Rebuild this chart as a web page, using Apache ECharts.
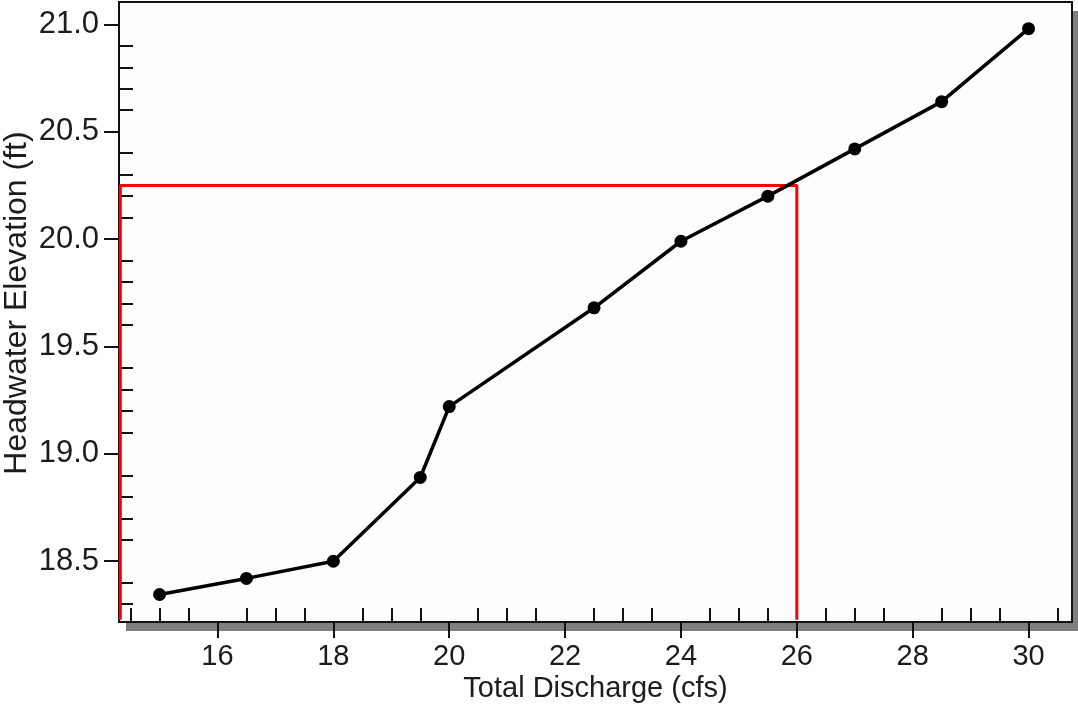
<!DOCTYPE html>
<html>
<head>
<meta charset="utf-8">
<script src="https://cdn.jsdelivr.net/npm/echarts@6/dist/echarts.min.js"></script>
<style>
html,body{margin:0;padding:0;background:#ffffff;}
#chart{width:1078px;height:709px;}
</style>
</head>
<body>
<div id="chart"></div>
<script>
// Data
const discharge = [15, 16.5, 18, 19.5, 20, 22.5, 24, 25.5, 27, 28.5, 30];
const elevation = [18.345, 18.42, 18.50, 18.89, 19.22, 19.68, 19.99, 20.20, 20.42, 20.64, 20.98];

// Red highlight box (discharge, elevation corners)
const boxX = [14.323, 14.323, 26.0, 26.0];
const boxY = [18.228, 20.25, 20.25, 18.228];

// Tick labels and minor tick positions
const xTickLabels = [16, 18, 20, 22, 24, 26, 28, 30];
const yTickLabels = [18.5, 19.0, 19.5, 20.0, 20.5, 21.0];
const xMinorTicks = [14.5, 15, 15.5, 16.5, 17, 17.5, 18.5, 19, 19.5, 20.5, 21, 21.5, 22.5, 23, 23.5, 24.5, 25, 25.5, 26.5, 27, 27.5, 28.5, 29, 29.5, 30.5];
const yMinorTicks = [18.3, 18.4, 18.6, 18.7, 18.8, 18.9, 19.1, 19.2, 19.3, 19.4, 19.6, 19.7, 19.8, 19.9, 20.1, 20.2, 20.3, 20.4, 20.6, 20.7, 20.8, 20.9];

const X_MIN = 14.30, X_MAX = 30.75;
const Y_MIN = 18.217, Y_MAX = 21.104;

const FONT = "'Liberation Sans', Arial, sans-serif";
const TXT = '#1c1c1c';
const AX = '#111';

const chart = echarts.init(document.getElementById('chart'), null, {renderer: 'canvas'});

function frameAxis(pos) {
  return {
    type: 'value', min: pos === 'top' ? X_MIN : Y_MIN, max: pos === 'top' ? X_MAX : Y_MAX,
    position: pos, offset: 0,
    axisLine: {show: true, lineStyle: {color: AX, width: 2}},
    axisTick: {show: false}, axisLabel: {show: false}, splitLine: {show: false}
  };
}

const option = {
  backgroundColor: '#ffffff',
  animation: false,
  grid: {
    left: 119, right: 6, top: 2, bottom: 87,
    containLabel: false,
    outerBoundsMode: 'none',
    show: true,
    backgroundColor: '#fdfdfd',
    borderWidth: 0,
    shadowColor: '#7f7f7f',
    shadowBlur: 0,
    shadowOffsetX: 7,
    shadowOffsetY: 9
  },
  xAxis: [
    {
      type: 'value', min: X_MIN, max: X_MAX, position: 'bottom',
      name: 'Total Discharge (cfs)', nameLocation: 'middle', nameGap: 52, nameMoveOverlap: false,
      nameTextStyle: {fontFamily: FONT, fontSize: 29, color: TXT},
      axisLine: {show: true, lineStyle: {color: AX, width: 2}},
      axisTick: {show: true, inside: false, length: 16, lineStyle: {color: AX, width: 2}, customValues: xTickLabels},
      axisLabel: {show: true, margin: 20, fontFamily: FONT, fontSize: 29, color: TXT, customValues: xTickLabels,
                  formatter: v => String(v)},
      splitLine: {show: false}
    },
    {
      type: 'value', min: X_MIN, max: X_MAX, position: 'bottom', offset: 0,
      axisLine: {show: false},
      axisTick: {show: true, inside: true, length: 14, lineStyle: {color: AX, width: 2}, customValues: xMinorTicks},
      axisLabel: {show: false},
      splitLine: {show: false}
    },
    frameAxis('top')
  ],
  yAxis: [
    {
      type: 'value', min: Y_MIN, max: Y_MAX, position: 'left',
      name: 'Headwater Elevation (ft)', nameLocation: 'middle', nameGap: 86, nameRotate: 90, nameMoveOverlap: false,
      nameTextStyle: {fontFamily: FONT, fontSize: 32, color: TXT, padding: [0, 0, 0, 18]},
      axisLine: {show: true, lineStyle: {color: AX, width: 2}},
      axisTick: {show: true, inside: false, length: 15, lineStyle: {color: AX, width: 2}, customValues: yTickLabels},
      axisLabel: {show: true, margin: 20, fontFamily: FONT, fontSize: 31, color: TXT, customValues: yTickLabels,
                  formatter: v => Number(v).toFixed(1)},
      splitLine: {show: false}
    },
    {
      type: 'value', min: Y_MIN, max: Y_MAX, position: 'left', offset: 0,
      axisLine: {show: false},
      axisTick: {show: true, inside: true, length: 14, lineStyle: {color: AX, width: 2}, customValues: yMinorTicks},
      axisLabel: {show: false},
      splitLine: {show: false}
    },
    frameAxis('right')
  ],
  series: [
    {
      name: 'box', type: 'line',
      xAxisIndex: 0, yAxisIndex: 0,
      data: boxX.map((x, i) => [x, boxY[i]]),
      showSymbol: false, symbol: 'none',
      lineStyle: {color: '#ff0000', width: 3},
      clip: false, z: 2, silent: true
    },
    {
      name: 'Headwater', type: 'line',
      xAxisIndex: 0, yAxisIndex: 0,
      data: discharge.map((x, i) => [x, elevation[i]]),
      symbol: 'circle', symbolSize: 13,
      itemStyle: {color: '#000'},
      lineStyle: {color: '#000', width: 3.5},
      z: 3
    }
  ]
};
chart.setOption(option);
</script>
</body>
</html>
